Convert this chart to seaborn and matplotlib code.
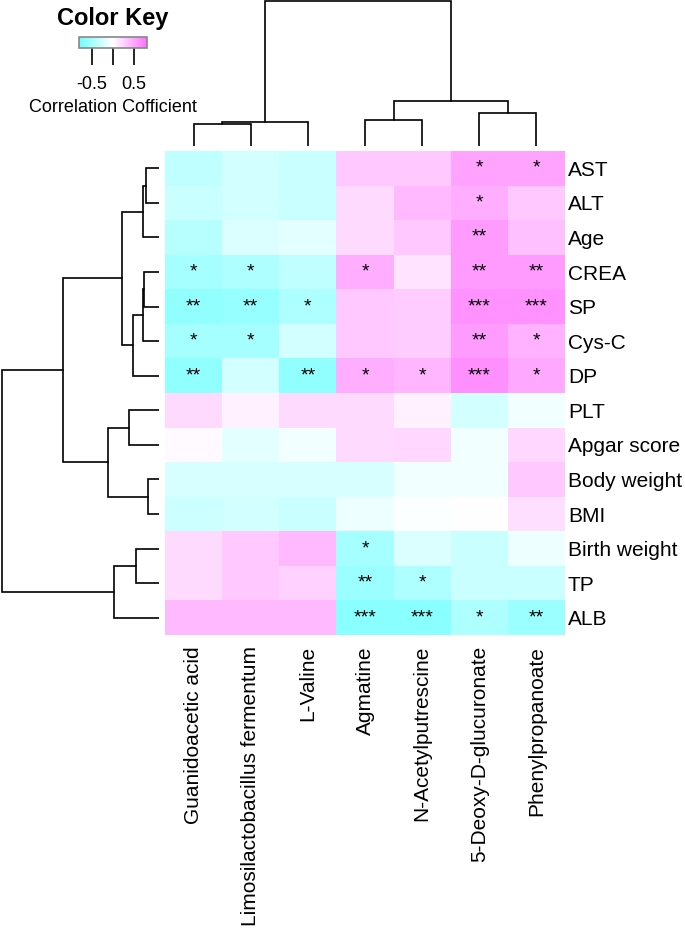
import matplotlib
matplotlib.use("Agg")
import matplotlib.pyplot as plt
import seaborn as sns
import pandas as pd
import numpy as np
from matplotlib.colors import LinearSegmentedColormap

# Heatmap data (rows / columns in dendrogram order)
row_labels = ["AST", "ALT", "Age", "CREA", "SP", "Cys-C", "DP", "PLT",
              "Apgar score", "Body weight", "BMI", "Birth weight", "TP", "ALB"]
col_labels = ["Guanidoacetic acid", "Limosilactobacillus fermentum", "L-Valine",
              "Agmatine", "N-Acetylputrescine", "5-Deoxy-D-glucuronate",
              "Phenylpropanoate"]

corr = [
    [-0.35, -0.25, -0.30, 0.30, 0.30, 0.50, 0.50],
    [-0.30, -0.25, -0.30, 0.20, 0.38, 0.45, 0.30],
    [-0.40, -0.20, -0.15, 0.20, 0.30, 0.55, 0.35],
    [-0.50, -0.45, -0.35, 0.45, 0.15, 0.55, 0.55],
    [-0.60, -0.58, -0.45, 0.30, 0.28, 0.60, 0.60],
    [-0.50, -0.50, -0.25, 0.30, 0.28, 0.55, 0.42],
    [-0.60, -0.25, -0.60, 0.45, 0.40, 0.62, 0.48],
    [0.20, 0.08, 0.20, 0.20, 0.08, -0.25, -0.08],
    [0.03, -0.15, -0.08, 0.20, 0.22, -0.07, 0.22],
    [-0.22, -0.22, -0.22, -0.22, -0.08, -0.08, 0.30],
    [-0.28, -0.25, -0.30, -0.10, -0.02, 0.00, 0.18],
    [0.20, 0.30, 0.38, -0.50, -0.20, -0.30, -0.10],
    [0.20, 0.30, 0.25, -0.55, -0.45, -0.30, -0.30],
    [0.38, 0.38, 0.38, -0.65, -0.65, -0.45, -0.55],
]

stars = [
    ["", "", "", "", "", "*", "*"],
    ["", "", "", "", "", "*", ""],
    ["", "", "", "", "", "**", ""],
    ["*", "*", "", "*", "", "**", "**"],
    ["**", "**", "*", "", "", "***", "***"],
    ["*", "*", "", "", "", "**", "*"],
    ["**", "", "**", "*", "*", "***", "*"],
    ["", "", "", "", "", "", ""],
    ["", "", "", "", "", "", ""],
    ["", "", "", "", "", "", ""],
    ["", "", "", "", "", "", ""],
    ["", "", "", "*", "", "", ""],
    ["", "", "", "**", "*", "", ""],
    ["", "", "", "***", "***", "*", "**"],
]

# dendrogram merges: (left, right, height); ids >= n refer to earlier merges
row_merges = [
    (0, 1, 13), (14, 2, 16), (3, 4, 15), (16, 5, 16), (17, 6, 26),
    (15, 18, 37), (7, 8, 30), (9, 10, 11), (20, 21, 51), (19, 22, 96),
    (11, 12, 23), (24, 13, 45), (23, 25, 157),
]
col_merges = [
    (0, 1, 22), (7, 2, 24), (3, 4, 26), (5, 6, 33), (9, 10, 45), (8, 11, 145),
]


def draw_dendro(ax, merges, n, orient):
    pos = {i: i + 0.5 for i in range(n)}
    hgt = {i: 0 for i in range(n)}
    for k, (a, b, h) in enumerate(merges):
        xs = [pos[a], pos[a], pos[b], pos[b]]
        ys = [hgt[a], h, h, hgt[b]]
        if orient == "top":
            ax.plot(xs, ys, color="black", lw=1.2, solid_joinstyle="miter")
        else:
            ax.plot(ys, xs, color="black", lw=1.2, solid_joinstyle="miter")
        pos[n + k] = (pos[a] + pos[b]) / 2
        hgt[n + k] = h


sns.set_style("white")
plt.rcParams["font.family"] = ["Liberation Sans", "DejaVu Sans"]
plt.rcParams["text.color"] = "black"
plt.rcParams["xtick.color"] = "black"
plt.rcParams["ytick.color"] = "black"
plt.rcParams["axes.labelcolor"] = "black"

W, H = 685, 935
fig = plt.figure(figsize=(W / 100, H / 100), dpi=100)


def px_axes(x0, y0, x1, y1):
    return fig.add_axes([x0 / W, 1 - y1 / H, (x1 - x0) / W, (y1 - y0) / H])


cmap = LinearSegmentedColormap.from_list("cwm", ["#6EFFFF", "#FFFFFF", "#FF6EFF"])

ax_hm = px_axes(165, 151, 565, 635)
cax = px_axes(79, 37, 147, 48)

df = pd.DataFrame(corr, index=row_labels, columns=col_labels)
annot = pd.DataFrame(stars, index=row_labels, columns=col_labels)
sns.heatmap(df, cmap=cmap, vmin=-0.8, vmax=0.8, annot=annot, fmt="",
            annot_kws={"fontsize": 14, "color": "black"}, ax=ax_hm,
            cbar_ax=cax, cbar_kws={"orientation": "horizontal"})

ax_hm.yaxis.tick_right()
ax_hm.set_yticklabels(row_labels, rotation=0, fontsize=15)
ax_hm.set_xticklabels(col_labels, rotation=90, fontsize=15)
ax_hm.tick_params(axis="both", length=0)
ax_hm.tick_params(axis="y", pad=2)
ax_hm.tick_params(axis="x", pad=8)
ax_hm.set_xlabel("")
ax_hm.set_ylabel("")

# colour key
cbar = ax_hm.collections[0].colorbar
cbar.set_ticks([-0.5, 0, 0.5])
cbar.set_ticklabels(["-0.5", "", "0.5"])
cax.tick_params(axis="x", length=12, width=1.2, pad=8, labelsize=13,
                direction="out", bottom=True, colors="black")
cbar.outline.set_edgecolor("#888888")
cbar.outline.set_linewidth(1.2)
fig.text(113 / W, 1 - 18 / H, "Color Key", ha="center", va="center",
         fontsize=17, fontweight="bold")
fig.text(113 / W, 1 - 108 / H, "Correlation Cofficient", ha="center",
         va="center", fontsize=13)

# row dendrogram
ax_row = px_axes(0, 151, 159, 635)
draw_dendro(ax_row, row_merges, len(row_labels), "left")
ax_row.set_xlim(159, 0)
ax_row.set_ylim(len(row_labels), 0)
ax_row.axis("off")

# column dendrogram
ax_col = px_axes(165, 0, 565, 146)
draw_dendro(ax_col, col_merges, len(col_labels), "top")
ax_col.set_xlim(0, len(col_labels))
ax_col.set_ylim(0, 146)
ax_col.axis("off")

fig.savefig("out.png", dpi=100)
